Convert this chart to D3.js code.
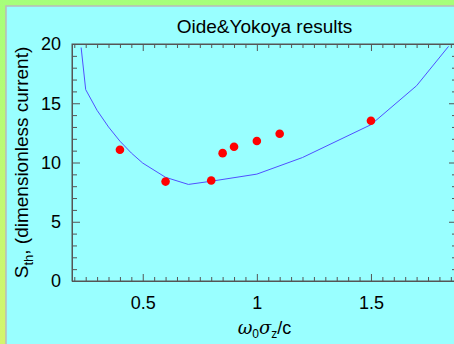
<!DOCTYPE html>
<html>
<head>
<meta charset="utf-8">
<script src="https://cdn.jsdelivr.net/npm/d3@7"></script>
<style>
  html, body { margin: 0; padding: 0; overflow: hidden; }
  svg { display: block; font-family: "Liberation Sans", Arial, sans-serif; }
</style>
</head>
<body>
<div id="chart"></div>
<script>
// Oide & Yokoya threshold curve
const curveX = [0.23, 0.25, 0.3, 0.35, 0.4, 0.45, 0.5, 0.6, 0.7, 0.8, 1.0, 1.2, 1.5, 1.7, 1.84];
const curveY = [19.7, 16.15, 14.4, 13.0, 11.8, 10.8, 9.95, 8.75, 8.15, 8.42, 9.02, 10.42, 13.19, 16.48, 19.8];

// simulation points
const pointX = [0.4, 0.6, 0.8, 0.85, 0.9, 1.0, 1.1, 1.5];
const pointY = [11.07, 8.39, 8.48, 10.79, 11.33, 11.81, 12.43, 13.52];

const xMajor = [0.5, 1, 1.5];
const yMajor = [0, 5, 10, 15, 20];

const W = 454, H = 344;
const margin = { top: 44, right: -3, bottom: 63, left: 72 };
const width = W - margin.left - margin.right;
const height = H - margin.top - margin.bottom;

const svg = d3.select('#chart').append('svg')
    .attr('width', W)
    .attr('height', H);

// background: green gradient frame with cyan panel
const grad = svg.append('defs').append('linearGradient')
    .attr('id', 'bg')
    .attr('x1', 0).attr('y1', 0).attr('x2', 0).attr('y2', 1);
grad.append('stop').attr('offset', '0%').attr('stop-color', '#a6ff7a');
grad.append('stop').attr('offset', '100%').attr('stop-color', '#d4f56c');

svg.append('rect').attr('width', W).attr('height', H).attr('fill', 'url(#bg)');
svg.append('rect')
    .attr('x', 6).attr('y', 6)
    .attr('width', W).attr('height', H)
    .attr('fill', '#99ffff')
    .attr('stroke', '#bbbbbb')
    .attr('stroke-width', 1.5);

const g = svg.append('g')
    .attr('transform', `translate(${margin.left},${margin.top})`);

// scales
const x = d3.scaleLinear().domain([0.19, 1.877]).range([0, width]);
const y = d3.scaleLinear().domain([0, 20]).range([height, 0]);

const xMinor = d3.range(0.2, 1.876, 0.05).map(v => +v.toFixed(2))
    .filter(v => !xMajor.some(m => Math.abs(m - v) < 1e-6));
const yMinor = d3.range(1, 20, 1).filter(v => v % 5 !== 0);

const axisColor = '#555';

function styleAxis(sel) {
    sel.selectAll('.domain').attr('stroke', axisColor);
    sel.selectAll('.tick line').attr('stroke', axisColor);
}

// frame
g.append('rect')
    .attr('width', width).attr('height', height)
    .attr('fill', 'none')
    .attr('stroke', axisColor)
    .attr('stroke-width', 1);

// bottom axis ticks (pointing inward)
g.append('g').attr('transform', `translate(0,${height})`)
    .call(d3.axisTop(x).tickValues(xMajor).tickSize(7).tickFormat(''))
    .call(styleAxis);
g.append('g').attr('transform', `translate(0,${height})`)
    .call(d3.axisTop(x).tickValues(xMinor).tickSize(4).tickFormat('').tickSizeOuter(0))
    .call(styleAxis);
// top axis ticks
g.append('g')
    .call(d3.axisBottom(x).tickValues(xMajor).tickSize(7).tickFormat(''))
    .call(styleAxis);
g.append('g')
    .call(d3.axisBottom(x).tickValues(xMinor).tickSize(4).tickFormat('').tickSizeOuter(0))
    .call(styleAxis);
// left axis ticks
g.append('g')
    .call(d3.axisRight(y).tickValues(yMajor).tickSize(8).tickFormat(''))
    .call(styleAxis);
g.append('g')
    .call(d3.axisRight(y).tickValues(yMinor).tickSize(5).tickFormat('').tickSizeOuter(0))
    .call(styleAxis);
// right axis ticks
g.append('g').attr('transform', `translate(${width},0)`)
    .call(d3.axisLeft(y).tickValues(yMajor).tickSize(8).tickFormat(''))
    .call(styleAxis);
g.append('g').attr('transform', `translate(${width},0)`)
    .call(d3.axisLeft(y).tickValues(yMinor).tickSize(5).tickFormat('').tickSizeOuter(0))
    .call(styleAxis);

// tick labels
const xLab = g.append('g').attr('transform', `translate(0,${height})`)
    .call(d3.axisBottom(x).tickValues(xMajor).tickSize(0).tickPadding(15)
        .tickFormat(d3.format('')));
xLab.select('.domain').remove();
xLab.selectAll('text').style('font-size', '18px').attr('fill', '#000')
    .style('font-family', 'inherit');

const yLab = g.append('g')
    .call(d3.axisLeft(y).tickValues(yMajor).tickSize(0).tickPadding(11));
yLab.select('.domain').remove();
yLab.selectAll('text').style('font-size', '18px').attr('fill', '#000')
    .style('font-family', 'inherit');

// curve
const line = d3.line()
    .x((d, i) => x(curveX[i]))
    .y(d => y(d));

g.append('path')
    .datum(curveY)
    .attr('fill', 'none')
    .attr('stroke', '#5050ff')
    .attr('stroke-width', 1)
    .attr('d', line);

// points
g.selectAll('.pt')
    .data(pointY)
    .enter().append('circle')
    .attr('class', 'pt')
    .attr('cx', (d, i) => x(pointX[i]))
    .attr('cy', d => y(d))
    .attr('r', 4.3)
    .attr('fill', '#ff0000');

// title
svg.append('text')
    .attr('x', margin.left + width / 2)
    .attr('y', 33)
    .attr('text-anchor', 'middle')
    .style('font-size', '19px')
    .text('Oide&Yokoya results');

// y label
const yTitle = svg.append('text')
    .attr('transform', `translate(28,${margin.top + height / 2}) rotate(-90)`)
    .attr('text-anchor', 'middle')
    .style('font-size', '19px');
yTitle.append('tspan').text('S');
yTitle.append('tspan').attr('dy', 5).style('font-size', '13px').text('th');
yTitle.append('tspan').attr('dy', -5).text(', (dimensionless current)');

// x label
const xTitle = svg.append('text')
    .attr('x', margin.left + width / 2)
    .attr('y', 334)
    .attr('text-anchor', 'middle')
    .style('font-size', '18px');
xTitle.append('tspan').style('font-style', 'italic').style('font-family', 'DejaVu Serif, serif').text('ω');
xTitle.append('tspan').attr('dy', 4).style('font-size', '12px').text('0');
xTitle.append('tspan').attr('dy', -4).style('font-style', 'italic').style('font-family', 'DejaVu Serif, serif').text('σ');
xTitle.append('tspan').attr('dy', 4).style('font-size', '12px').text('z');
xTitle.append('tspan').attr('dy', -4).text('/c');
</script>
</body>
</html>
